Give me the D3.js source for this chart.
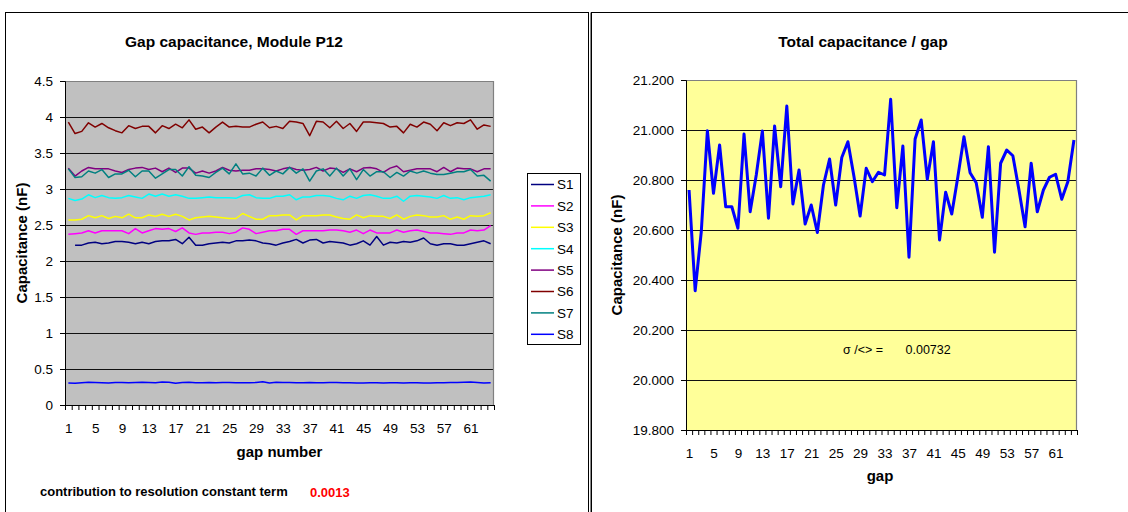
<!DOCTYPE html>
<html>
<head>
<meta charset="utf-8">
<script src="https://cdn.jsdelivr.net/npm/d3@7"></script>
<style>
  body { margin: 0; background: #fff; }
  svg { display: block; font-family: "Liberation Sans", Arial, sans-serif; }
</style>
</head>
<body>
<svg id="chart" width="1128" height="512"></svg>
<script>
// ---- data -------------------------------------------------------------
const gaps = d3.range(1, 65);                       // gap numbers 1..64
const xLabelValues = [1, 5, 9, 13, 17, 21, 25, 29, 33, 37, 41, 45, 49, 53, 57, 61];
const leftTicks = [0, 0.5, 1, 1.5, 2, 2.5, 3, 3.5, 4, 4.5];
const rightTicks = [19.8, 20.0, 20.2, 20.4, 20.6, 20.8, 21.0, 21.2];

const seriesNames = ["S1", "S2", "S3", "S4", "S5", "S6", "S7", "S8"];
const seriesColors = ["#000080", "#FF00FF", "#FFFF00", "#00FFFF", "#800080", "#800000", "#008080", "#0000FF"];

const s1 = [null, 2.22, 2.22, 2.25, 2.26, 2.24, 2.25, 2.27, 2.27, 2.26,
  2.24, 2.26, 2.24, 2.27, 2.28, 2.28, 2.30, 2.24, 2.33, 2.22,
  2.22, 2.24, 2.25, 2.26, 2.25, 2.28, 2.28, 2.29, 2.28, 2.25,
  2.24, 2.22, 2.25, 2.27, 2.30, 2.25, 2.29, 2.30, 2.25, 2.27,
  2.26, 2.25, 2.22, 2.24, 2.28, 2.22, 2.34, 2.22, 2.26, 2.25,
  2.27, 2.26, 2.28, 2.32, 2.24, 2.22, 2.24, 2.24, 2.22, 2.22,
  2.24, 2.26, 2.28, 2.24];
const s2 = [2.37, 2.38, 2.39, 2.42, 2.39, 2.42, 2.42, 2.42, 2.42, 2.38,
  2.45, 2.39, 2.42, 2.45, 2.44, 2.45, 2.41, 2.46, 2.39, 2.37,
  2.39, 2.39, 2.40, 2.40, 2.38, 2.40, 2.46, 2.44, 2.38, 2.40,
  2.42, 2.42, 2.44, 2.44, 2.37, 2.42, 2.42, 2.42, 2.42, 2.43,
  2.43, 2.42, 2.40, 2.43, 2.38, 2.43, 2.39, 2.39, 2.39, 2.43,
  2.40, 2.42, 2.43, 2.41, 2.39, 2.39, 2.38, 2.37, 2.39, 2.39,
  2.43, 2.42, 2.43, 2.49];
const s3 = [2.57, 2.57, 2.58, 2.63, 2.60, 2.63, 2.59, 2.62, 2.60, 2.65,
  2.60, 2.60, 2.64, 2.62, 2.65, 2.62, 2.65, 2.62, 2.57, 2.60,
  2.61, 2.62, 2.61, 2.60, 2.59, 2.59, 2.66, 2.62, 2.58, 2.58,
  2.63, 2.63, 2.64, 2.64, 2.57, 2.63, 2.63, 2.63, 2.64, 2.64,
  2.61, 2.59, 2.58, 2.64, 2.60, 2.63, 2.62, 2.62, 2.59, 2.64,
  2.58, 2.62, 2.64, 2.63, 2.61, 2.61, 2.63, 2.58, 2.61, 2.58,
  2.63, 2.62, 2.63, 2.67];
const s4 = [2.87, 2.84, 2.86, 2.92, 2.88, 2.91, 2.88, 2.87, 2.88, 2.91,
  2.89, 2.87, 2.93, 2.90, 2.93, 2.90, 2.92, 2.90, 2.87, 2.87,
  2.88, 2.89, 2.88, 2.88, 2.88, 2.87, 2.91, 2.92, 2.88, 2.87,
  2.87, 2.90, 2.90, 2.92, 2.85, 2.89, 2.89, 2.91, 2.91, 2.90,
  2.87, 2.85, 2.90, 2.87, 2.91, 2.92, 2.90, 2.87, 2.87, 2.90,
  2.83, 2.90, 2.91, 2.90, 2.89, 2.87, 2.91, 2.87, 2.88, 2.85,
  2.88, 2.89, 2.90, 2.92];
const s5 = [3.29, 3.18, 3.25, 3.30, 3.28, 3.28, 3.28, 3.25, 3.23, 3.27,
  3.29, 3.30, 3.27, 3.29, 3.24, 3.29, 3.23, 3.29, 3.29, 3.22,
  3.25, 3.22, 3.25, 3.30, 3.26, 3.25, 3.26, 3.26, 3.28, 3.28,
  3.27, 3.25, 3.28, 3.30, 3.27, 3.26, 3.27, 3.30, 3.25, 3.29,
  3.28, 3.23, 3.28, 3.24, 3.29, 3.30, 3.28, 3.23, 3.29, 3.32,
  3.24, 3.26, 3.28, 3.28, 3.28, 3.24, 3.30, 3.24, 3.29, 3.28,
  3.28, 3.24, 3.28, 3.28];
const s6 = [3.93, 3.77, 3.80, 3.92, 3.86, 3.91, 3.85, 3.81, 3.78, 3.88,
  3.84, 3.87, 3.87, 3.78, 3.88, 3.84, 3.90, 3.85, 3.96, 3.83,
  3.86, 3.78, 3.86, 3.93, 3.86, 3.87, 3.86, 3.86, 3.90, 3.93,
  3.85, 3.87, 3.84, 3.94, 3.93, 3.91, 3.74, 3.94, 3.93, 3.85,
  3.94, 3.84, 3.91, 3.80, 3.93, 3.93, 3.92, 3.91, 3.86, 3.87,
  3.78, 3.90, 3.86, 3.93, 3.90, 3.81, 3.92, 3.88, 3.92, 3.91,
  3.96, 3.83, 3.89, 3.87];
const s7 = [3.28, 3.16, 3.17, 3.25, 3.22, 3.27, 3.16, 3.21, 3.21, 3.26,
  3.17, 3.25, 3.25, 3.15, 3.21, 3.27, 3.27, 3.18, 3.31, 3.19,
  3.18, 3.16, 3.23, 3.29, 3.21, 3.35, 3.21, 3.22, 3.18, 3.29,
  3.19, 3.25, 3.21, 3.30, 3.22, 3.28, 3.11, 3.25, 3.28, 3.18,
  3.29, 3.18, 3.28, 3.13, 3.27, 3.18, 3.24, 3.24, 3.16, 3.23,
  3.18, 3.25, 3.22, 3.25, 3.22, 3.20, 3.20, 3.22, 3.24, 3.24,
  3.27, 3.18, 3.19, 3.11];
const s8 = [0.306, 0.301, 0.310, 0.315, 0.313, 0.310, 0.306, 0.313, 0.313, 0.310,
  0.313, 0.315, 0.313, 0.310, 0.319, 0.315, 0.301, 0.313, 0.315, 0.310,
  0.310, 0.313, 0.310, 0.313, 0.313, 0.310, 0.310, 0.310, 0.313, 0.324,
  0.306, 0.315, 0.313, 0.313, 0.310, 0.310, 0.313, 0.310, 0.310, 0.313,
  0.313, 0.310, 0.310, 0.306, 0.306, 0.310, 0.310, 0.306, 0.310, 0.310,
  0.306, 0.310, 0.310, 0.306, 0.306, 0.310, 0.310, 0.313, 0.313, 0.315,
  0.318, 0.313, 0.306, 0.310];
const seriesValues = [s1, s2, s3, s4, s5, s6, s7, s8];

// total capacitance per gap (nF)
const totalCap = [20.760, 20.357, 20.593, 20.997, 20.747, 20.940, 20.693, 20.693, 20.607, 20.984,
  20.673, 20.820, 20.996, 20.647, 21.016, 20.773, 21.096, 20.704, 20.840, 20.624,
  20.700, 20.590, 20.780, 20.884, 20.700, 20.890, 20.953, 20.813, 20.656, 20.847,
  20.793, 20.831, 20.820, 21.123, 20.689, 20.936, 20.491, 20.964, 21.040, 20.803,
  20.953, 20.560, 20.751, 20.664, 20.813, 20.973, 20.829, 20.789, 20.651, 20.933,
  20.511, 20.867, 20.920, 20.897, 20.760, 20.613, 20.867, 20.673, 20.760, 20.811,
  20.823, 20.723, 20.793, 20.960];

const sigmaLabel = "\u03C3 /<> =";
const sigmaValue = "0.00732";
const contributionLabel = "contribution to resolution constant term";
const contributionValue = "0.0013";

// ---- drawing ----------------------------------------------------------
const svg = d3.select("#chart");
const FONT_TICK = "13.5px";
const FONT_AXIS = "15px";
const FONT_TITLE = "15.5px";

svg.append("rect").attr("width", 1128).attr("height", 512).attr("fill", "#fff");

// panel frames
svg.append("rect").attr("x", 5.5).attr("y", 12.5).attr("width", 583).attr("height", 540)
  .attr("fill", "none").attr("stroke", "#000").attr("stroke-width", 1);
svg.append("line").attr("x1", 590.5).attr("x2", 590.5).attr("y1", 12.5).attr("y2", 512)
  .attr("stroke", "#888").attr("stroke-width", 1);
svg.append("rect").attr("x", 591.5).attr("y", 12.5).attr("width", 560).attr("height", 540)
  .attr("fill", "none").attr("stroke", "#000").attr("stroke-width", 1);

function styleAxis(g, size) {
  g.select(".domain").attr("stroke", "#000");
  g.selectAll(".tick line").attr("stroke", "#000");
  g.selectAll(".tick text").attr("fill", "#000").style("font-size", size)
    .style("font-family", '"Liberation Sans", Arial, sans-serif');
}

function drawFrame(box, x, y, yTicks, bg, yFormat) {
  const w = box.right - box.left, h = box.bottom - box.top;
  svg.append("rect").attr("x", box.left).attr("y", box.top).attr("width", w).attr("height", h)
    .attr("fill", bg);
  // horizontal gridlines
  svg.append("g").selectAll("line").data(yTicks.slice(1)).join("line")
    .attr("x1", box.left).attr("x2", box.right)
    .attr("y1", d => Math.round(y(d)) + 0.5).attr("y2", d => Math.round(y(d)) + 0.5)
    .attr("stroke", "#111").attr("stroke-width", 1);
  // plot-area border (top/right)
  svg.append("path")
    .attr("d", `M${box.left},${box.top + 0.5}H${box.right - 0.5}V${box.bottom}`)
    .attr("fill", "none").attr("stroke", "#808080").attr("stroke-width", 1.2);
  // y axis
  const gy = svg.append("g").attr("transform", `translate(${box.left},0)`)
    .call(d3.axisLeft(y).tickValues(yTicks).tickSize(5).tickPadding(7).tickFormat(yFormat));
  styleAxis(gy, FONT_TICK);
  // x axis: ticks at category boundaries
  const gx = svg.append("g").attr("transform", `translate(0,${box.bottom})`)
    .call(d3.axisBottom(x).tickValues(d3.range(0.5, 65, 1)).tickSize(5).tickFormat(""));
  styleAxis(gx, FONT_TICK);
  // x labels every fourth gap
  const gl = svg.append("g").attr("transform", `translate(0,${box.bottom})`)
    .call(d3.axisBottom(x).tickValues(xLabelValues).tickSize(0).tickPadding(18));
  gl.select(".domain").remove();
  styleAxis(gl, FONT_TICK);
}

// ---------- left chart: gap capacitance per sector ----------
const L = { left: 65, right: 494, top: 81, bottom: 405 };
const xL = d3.scaleLinear().domain([0.5, 64.5]).range([L.left, L.right]);
const yL = d3.scaleLinear().domain([0, 4.5]).range([L.bottom, L.top]);
drawFrame(L, xL, yL, leftTicks, "#C0C0C0", d3.format(""));

const lineL = d3.line()
  .defined(d => d.v != null)
  .x(d => xL(d.g))
  .y(d => yL(d.v));

svg.append("g").selectAll("path").data(seriesValues).join("path")
  .attr("d", vals => lineL(vals.map((v, i) => ({ g: gaps[i], v }))))
  .attr("fill", "none")
  .attr("stroke", (d, i) => seriesColors[i])
  .attr("stroke-width", 1.5)
  .attr("stroke-linejoin", "round");

svg.append("text").attr("x", 234).attr("y", 47).attr("text-anchor", "middle")
  .style("font-size", FONT_TITLE).style("font-weight", "bold").text("Gap capacitance, Module P12");
svg.append("text").attr("transform", `translate(27,${(L.top + L.bottom) / 2}) rotate(-90)`)
  .attr("text-anchor", "middle").style("font-size", FONT_AXIS).style("font-weight", "bold")
  .text("Capacitance (nF)");
svg.append("text").attr("x", (L.left + L.right) / 2).attr("y", 457).attr("text-anchor", "middle")
  .style("font-size", FONT_AXIS).style("font-weight", "bold").text("gap number");
svg.append("text").attr("x", 40).attr("y", 496)
  .style("font-size", "13px").style("font-weight", "bold").text(contributionLabel);
svg.append("text").attr("x", 310).attr("y", 497).attr("fill", "#FF0000")
  .style("font-size", "13px").style("font-weight", "bold").text(contributionValue);

// legend
const legend = svg.append("g");
legend.append("rect").attr("x", 527.5).attr("y", 173.5).attr("width", 53).attr("height", 171)
  .attr("fill", "#fff").attr("stroke", "#000").attr("stroke-width", 1);
const items = legend.selectAll("g.item").data(seriesNames).join("g")
  .attr("class", "item")
  .attr("transform", (d, i) => `translate(0,${184.5 + i * 21.4})`);
items.append("line").attr("x1", 531).attr("x2", 554)
  .attr("stroke", (d, i) => seriesColors[i]).attr("stroke-width", 1.5);
items.append("text").attr("x", 557).attr("dy", "0.36em")
  .style("font-size", "13.5px").text(d => d);

// ---------- right chart: total capacitance per gap ----------
const R = { left: 686, right: 1077, top: 80, bottom: 430 };
const xR = d3.scaleLinear().domain([0.5, 64.5]).range([R.left, R.right]);
const yR = d3.scaleLinear().domain([19.8, 21.2]).range([R.bottom, R.top]);
drawFrame(R, xR, yR, rightTicks, "#FFFF99", d3.format(".3f"));

svg.append("path")
  .attr("d", d3.line().x((v, i) => xR(gaps[i])).y(v => yR(v))(totalCap))
  .attr("fill", "none").attr("stroke", "#0000FF").attr("stroke-width", 3)
  .attr("stroke-linejoin", "round");

svg.append("text").attr("x", 863).attr("y", 47).attr("text-anchor", "middle")
  .style("font-size", FONT_TITLE).style("font-weight", "bold").text("Total capacitance / gap");
svg.append("text").attr("transform", `translate(622,${(R.top + R.bottom) / 2}) rotate(-90)`)
  .attr("text-anchor", "middle").style("font-size", FONT_AXIS).style("font-weight", "bold")
  .text("Capacitance (nF)");
svg.append("text").attr("x", 880).attr("y", 481).attr("text-anchor", "middle")
  .style("font-size", FONT_AXIS).style("font-weight", "bold").text("gap");
svg.append("text").attr("x", 843).attr("y", 354)
  .style("font-size", "12.5px").text(sigmaLabel);
svg.append("text").attr("x", 905.5).attr("y", 354)
  .style("font-size", "12.5px").text(sigmaValue);
</script>
</body>
</html>
